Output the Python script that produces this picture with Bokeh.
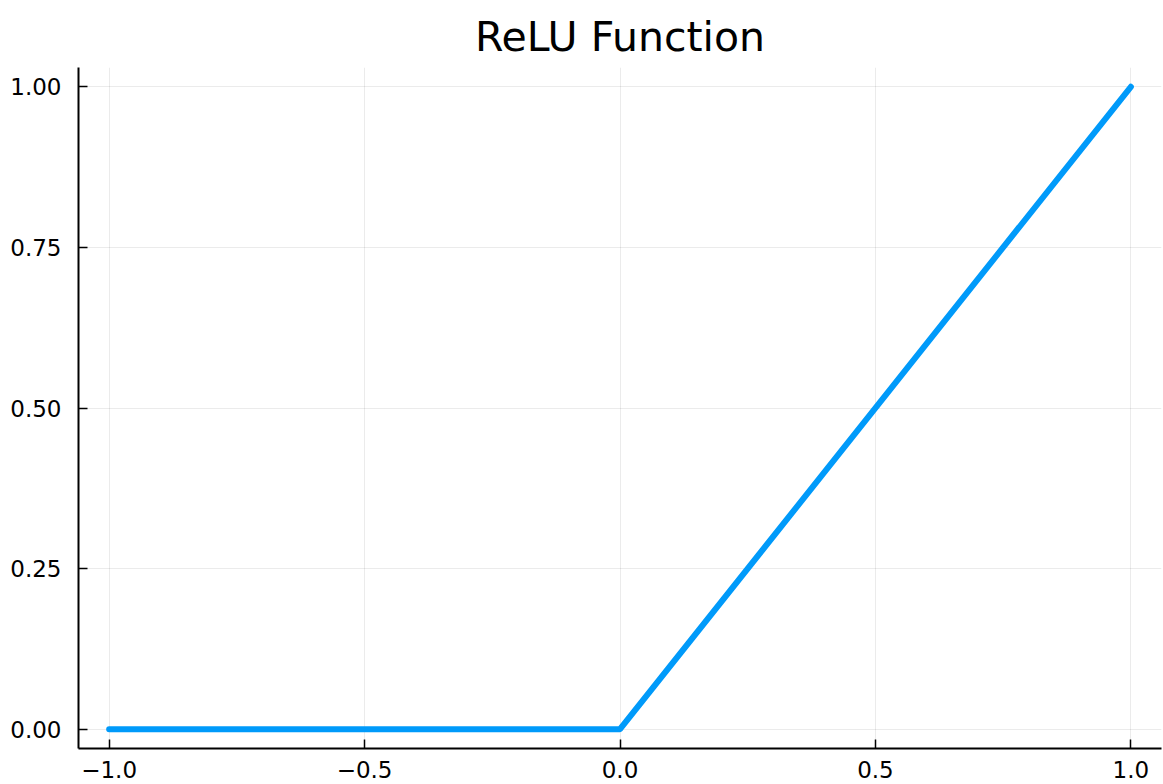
from bokeh.plotting import figure
from bokeh.models import Range1d, FixedTicker
from bokeh.embed import file_html
from bokeh.resources import INLINE

# data
x_vals = [-1.0, 0.0, 1.0]
y_vals = [0.0, 0.0, 1.0]
x_ticks = [-1.0, -0.5, 0.0, 0.5, 1.0]
x_tick_labels = ["\u22121.0", "\u22120.5", "0.0", "0.5", "1.0"]
y_ticks = [0.0, 0.25, 0.5, 0.75, 1.0]
y_tick_labels = ["0.00", "0.25", "0.50", "0.75", "1.00"]
title_text = "ReLU Function"

FONT = "DejaVu Sans"

p = figure(width=1163, height=784, output_backend="svg", toolbar_location=None,
           x_range=Range1d(-1.06, 1.06), y_range=Range1d(-0.03, 1.03),
           title=title_text)
p.min_border_left = 78
p.min_border_right = 2
p.min_border_top = 67
p.min_border_bottom = 36
p.outline_line_color = None
p.background_fill_color = "white"
p.border_fill_color = "white"

p.title.text_font = FONT
p.title.text_font_size = "41px"
p.title.text_font_style = "normal"
p.title.align = "center"
p.title.vertical_align = "top"
p.title.text_color = "black"

p.line(x_vals, y_vals, line_color="#009AFA", line_width=6,
       line_cap="round", line_join="round")

for ax in (p.xaxis[0], p.yaxis[0]):
    ax.axis_line_color = "black"
    ax.axis_line_width = 2
    ax.major_tick_in = 9
    ax.major_tick_out = 0
    ax.major_tick_line_width = 1.5
    ax.major_tick_line_color = "black"
    ax.minor_tick_line_color = None
    ax.major_label_text_font = FONT
    ax.major_label_text_font_size = "23px"
    ax.major_label_text_color = "black"

p.xaxis[0].ticker = FixedTicker(ticks=x_ticks)
p.xaxis[0].major_label_overrides = dict(zip(x_ticks, x_tick_labels))
p.xaxis[0].major_label_standoff = 12
p.yaxis[0].ticker = FixedTicker(ticks=y_ticks)
p.yaxis[0].major_label_overrides = dict(zip(y_ticks, y_tick_labels))
p.yaxis[0].major_label_standoff = 17

p.xgrid[0].ticker = FixedTicker(ticks=x_ticks)
p.ygrid[0].ticker = FixedTicker(ticks=y_ticks)
for g in (p.xgrid[0], p.ygrid[0]):
    g.grid_line_color = "black"
    g.grid_line_alpha = 0.08
    g.grid_line_width = 1

open("out.html", "w").write(file_html(p, INLINE))
